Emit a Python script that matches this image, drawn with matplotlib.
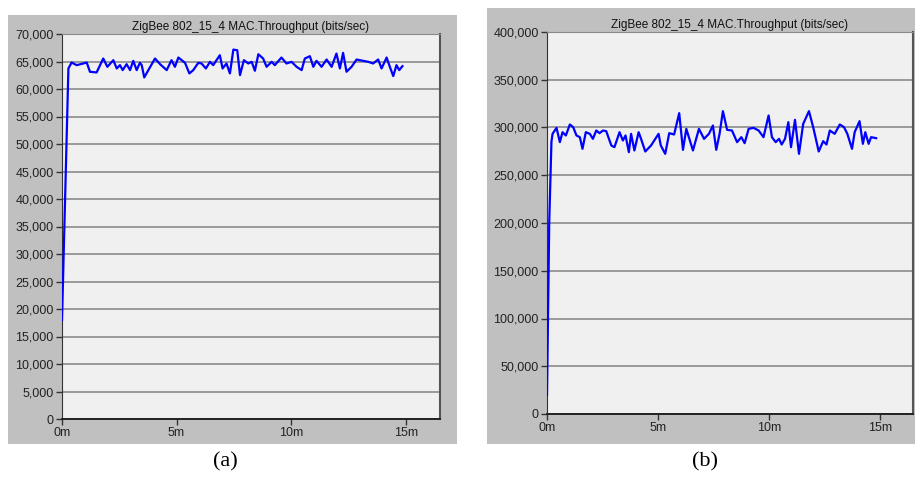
import matplotlib.pyplot as plt
from matplotlib.patches import Rectangle
from matplotlib.ticker import FuncFormatter

# ---- data (time in minutes) ----
time_a = [0.0, 0.28, 0.42, 0.64, 0.93, 1.08, 1.22, 1.51, 1.80, 1.98, 2.24, 2.39,
          2.53, 2.65, 2.82, 2.97, 3.11, 3.26, 3.40, 3.48, 3.59, 3.77, 4.06, 4.28,
          4.57, 4.78, 4.93, 5.08, 5.37, 5.56, 5.73, 5.95, 6.09, 6.28, 6.46, 6.60,
          6.89, 7.01, 7.18, 7.33, 7.48, 7.65, 7.77, 7.94, 8.13, 8.28, 8.42, 8.57,
          8.78, 8.93, 9.15, 9.29, 9.58, 9.80, 10.02, 10.24, 10.46, 10.60, 10.82,
          10.97, 11.11, 11.33, 11.55, 11.77, 11.98, 12.13, 12.27, 12.42, 12.64,
          12.86, 13.15, 13.37, 13.58, 13.80, 13.95, 14.17, 14.31, 14.46, 14.60,
          14.72, 14.86]
thr_a = [18000, 63735, 64819, 64337, 64639, 64819, 63133, 63012, 65542, 64036,
         65241, 63735, 64337, 63434, 64518, 63434, 65120, 63434, 64759, 64337,
         62108, 63434, 65542, 64518, 63434, 65241, 64036, 65723, 64759, 62831,
         63434, 64759, 64639, 63735, 64940, 64337, 66145, 63735, 64639, 62831,
         67169, 67048, 62530, 65241, 64639, 64940, 63313, 66325, 65542, 64036,
         64940, 64337, 65723, 64639, 64940, 64036, 63434, 65542, 65964, 64036,
         65120, 64036, 65361, 64036, 66446, 63735, 66566, 63133, 64036, 65361,
         65120, 64940, 64639, 65361, 63735, 65723, 64036, 62349, 64337, 63434,
         64157]

time_b = [0.0, 0.10, 0.20, 0.25, 0.43, 0.58, 0.70, 0.85, 1.03, 1.18, 1.33, 1.48,
          1.60, 1.75, 1.93, 2.07, 2.22, 2.37, 2.52, 2.67, 2.90, 3.04, 3.27, 3.42,
          3.54, 3.69, 3.79, 3.94, 4.13, 4.24, 4.43, 4.69, 5.03, 5.13, 5.33, 5.51,
          5.73, 5.96, 6.13, 6.28, 6.58, 6.85, 7.08, 7.30, 7.48, 7.63, 7.78, 7.93,
          8.12, 8.34, 8.57, 8.76, 8.91, 9.09, 9.31, 9.54, 9.76, 9.99, 10.14, 10.31,
          10.46, 10.58, 10.73, 10.88, 11.00, 11.18, 11.36, 11.55, 11.81, 12.00,
          12.25, 12.45, 12.60, 12.75, 12.97, 13.20, 13.39, 13.54, 13.75, 13.87,
          14.09, 14.24, 14.35, 14.50, 14.61, 14.84]
thr_b = [20000, 200000, 285000, 293369, 299651, 284644, 295114, 291624, 303141,
         300349, 291624, 289879, 277664, 295114, 293369, 288134, 296859, 294067,
         296859, 296161, 281154, 279409, 295114, 286389, 291624, 274174, 293369,
         275919, 295114, 288134, 274872, 281154, 293369, 281154, 272429, 294067,
         292671, 315007, 276617, 298604, 275919, 298604, 288134, 293369, 302094,
         276617, 293369, 317101, 297557, 296859, 284644, 289879, 283597, 298604,
         299651, 296859, 289879, 312564, 289879, 284644, 288134, 282201, 288134,
         305584, 279409, 308027, 272429, 303839, 317101, 300349, 274872, 285691,
         282201, 296859, 293369, 303141, 300349, 293369, 277664, 295114, 306631,
         282899, 295114, 282899, 289879, 288832]

x_ticks = [0, 5, 10, 15]
x_labels = ["0m", "5m", "10m", "15m"]
y_ticks_a = list(range(0, 70001, 5000))
y_ticks_b = list(range(0, 400001, 50000))
title = "ZigBee 802_15_4 MAC.Throughput (bits/sec)"
captions = ["(a)", "(b)"]

W, H = 915, 478
fig = plt.figure(figsize=(W / 100, H / 100), dpi=100)
fig.patch.set_facecolor("white")


def px(x0, y0, x1, y1):
    # pixel box (from top-left) -> figure fraction [left, bottom, width, height]
    return [x0 / W, 1 - y1 / H, (x1 - x0) / W, (y1 - y0) / H]


# grey panel backgrounds, kept behind the axes
for box in [(8, 15, 457, 444), (487, 8, 915, 444)]:
    l, b, w, h = px(*box)
    fig.patches.append(Rectangle((l, b), w, h, transform=fig.transFigure,
                                 facecolor="#c0c0c0", edgecolor="none", zorder=-10))

panels = [
    (px(62, 34, 440, 419), time_a, thr_a, y_ticks_a, 70000, 225),
    (px(547, 32, 913, 414), time_b, thr_b, y_ticks_b, 400000, 705),
]

for i, (rect, t, v, yt, ymax, cap_x) in enumerate(panels):
    ax = fig.add_axes(rect)
    ax.set_zorder(5)
    ax.set_facecolor("#f0f0f0")
    ax.plot(t, v, color="#0000ff", linewidth=1.6, zorder=3)
    ax.set_xlim(0, 16.5)
    ax.set_ylim(0, ymax)
    ax.set_xticks(x_ticks)
    ax.set_xticklabels(x_labels)
    ax.set_yticks(yt)
    ax.yaxis.set_major_formatter(FuncFormatter(lambda val, pos: f"{int(val):,}"))
    ax.grid(axis="y", color="#8a8a8a", linewidth=1.2, zorder=1)
    ax.tick_params(direction="out", length=4, width=1, color="#333333",
                   labelsize=9, labelcolor="#222222", pad=2)
    for lab in ax.get_xticklabels() + ax.get_yticklabels():
        lab.set_family("Liberation Sans")
    ax.spines["left"].set_color("#333333")
    ax.spines["bottom"].set_color("#222222")
    ax.spines["bottom"].set_linewidth(1.4)
    ax.spines["top"].set_color("#8a8a8a")
    ax.spines["right"].set_color("#555555")
    ax.spines["right"].set_linewidth(1.5)
    ax.set_title(title, fontsize=8.5, family="Liberation Sans", color="#111111", pad=3)
    fig.text(cap_x / W, 1 - 462 / H, captions[i], ha="center", va="center",
             fontsize=16, family="Liberation Serif")

fig.savefig("out.png", dpi=100)
